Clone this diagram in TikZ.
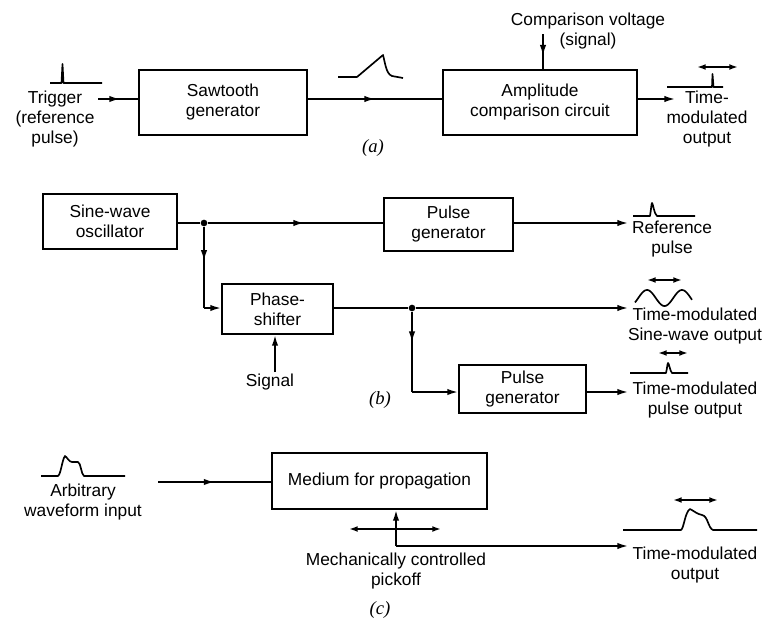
\documentclass[tikz,border=0pt]{standalone}
\usepackage{fontspec}
\setmainfont{Liberation Sans}
\newfontfamily\capfont{Liberation Serif}
\usetikzlibrary{arrows.meta,decorations.markings}
\tikzset{
  lab/.style={font=\fontsize{13}{15}\selectfont, align=center, inner sep=0pt},
  partlab/.style={font=\capfont\itshape\fontsize{14}{15}\selectfont, inner sep=0pt},
  blk/.style={draw, line width=1.6pt, align=center, inner sep=0pt, font=\fontsize{13}{15}\selectfont},
  wire/.style={line width=1.25pt},
  tip/.style={-{Latex[length=8pt,width=4.8pt]}},
  dbl/.style={{Latex[length=6.5pt,width=4.4pt]}-{Latex[length=6.5pt,width=4.4pt]}, line width=1.25pt},
  midarr/.style={postaction={decorate}, decoration={markings, mark=at position #1 with {\arrow{Latex[length=8pt,width=4.8pt]}}}},
  wave/.style={line width=1.25pt, line join=round},
  dot/.style={circle, fill, inner sep=0pt, minimum size=5pt}
}
\begin{document}
\begin{tikzpicture}[x=0.75pt,y=-0.75pt]
\useasboundingbox (0,0) rectangle (767,621);

% ---------- (a) ----------
\node[blk, minimum width=126pt, minimum height=48.75pt] (saw) at (223,102.5) {Sawtooth\\generator};
\node[blk, minimum width=145.5pt, minimum height=48.75pt] (amp) at (540,102.5) {Amplitude\\comparison circuit};
\node[lab] (trig) at (55,119) {Trigger\\(reference\\pulse)};
\node[lab] (cmp) at (588,31) {Comparison voltage\\(signal)};
\node[lab] (outa) at (707,119) {Time-\\modulated\\output};
\node[partlab] (capa) at (373,148) {(a)};
\coordinate (tin) at (98,99);
\coordinate (aout) at (675,99);
\coordinate (ctop) at (543,34);
\draw[wire, midarr=0.55] (tin) -- (tin -| saw.west);
\draw[wire, midarr=0.5] (saw.east |- tin) -- (amp.west |- tin);
\draw[wire, midarr=0.62] (ctop) -- (ctop |- amp.north);
\draw[wire, tip] (amp.east |- aout) -- (aout);
% trigger pulse
\draw[wave] (50,83) -- (61.5,83) -- (62.5,64) -- (63.5,83) -- (102,83);
% sawtooth wave
\draw[wave] (338,77) -- (357,77) -- (383,55) .. controls (385,62) and (386,74) .. (392,76) -- (403,78);
% output pulse (a)
\draw[wave] (667,87) -- (712,87) -- (712.5,74) -- (713.5,87) -- (723,87);
\draw[dbl] (697,67) -- (738,67);

% ---------- (b) ----------
\node[blk, minimum width=100.5pt, minimum height=41.25pt] (osc) at (110,221.5) {Sine-wave\\oscillator};
\node[blk, minimum width=96.75pt, minimum height=39.75pt] (pg1) at (448.5,224.5) {Pulse\\generator};
\node[blk, minimum width=83.25pt, minimum height=37.5pt] (ps) at (277.5,309) {Phase-\\shifter};
\node[blk, minimum width=95.25pt, minimum height=36pt] (pg2) at (522.5,389) {Pulse\\generator};
\node[lab] (refp) at (672,239) {Reference\\pulse};
\node[lab] (sinout) at (695,326) {Time-modulated\\Sine-wave output};
\node[lab] (pulout) at (695,400) {Time-modulated\\pulse output};
\node[lab] (sig) at (270,382) {Signal};
\node[partlab] (capb) at (380,400) {(b)};
\node[dot] (j1) at (204,223) {};
\node[dot] (j2) at (412,308) {};
\coordinate (c1) at (204,308);
\coordinate (c2) at (412,392);
\coordinate (r1) at (628,223);
\coordinate (r2) at (628,308);
\coordinate (r3) at (628,392);
\coordinate (sigb) at (275,372);
\draw[wire] (osc.east |- j1) -- (j1);
\draw[wire, midarr=0.55] (j1) -- (j1 -| pg1.west);
\draw[wire, tip] (pg1.east |- r1) -- (r1);
\draw[wire, midarr=0.42] (j1) -- (c1);
\draw[wire, tip] (c1) -- (c1 -| ps.west);
\draw[wire, tip] (sigb) -- (sigb |- ps.south);
\draw[wire] (ps.east |- j2) -- (j2);
\draw[wire, tip] (j2) -- (r2);
\draw[wire, midarr=0.38] (j2) -- (j2 |- c2);
\draw[wire, tip] (j2 |- c2) -- (c2 -| pg2.west);
\draw[wire, tip] (pg2.east |- r3) -- (r3);
% reference pulse
\draw[wave] (633,216) -- (650,216) .. controls (651,210) and (651.5,203) .. (652,203) .. controls (653,203) and (654,214) .. (657,216) -- (695,216);
% sine wave
\draw[wave] plot[domain=635:692, samples=60, smooth] (\x,{298-8*sin((\x-638.25)/35*360)});
\draw[dbl] (647,280) -- (682,280);
% pulse output (b)
\draw[wave] (630,373) -- (666,373) .. controls (667,369) and (667.5,363) .. (668,363) .. controls (669,363) and (670,371) .. (672,373) -- (688,373);
\draw[dbl] (658,353) -- (688,353);

% ---------- (c) ----------
\node[blk, minimum width=161.25pt, minimum height=42pt] (med) at (379.5,481) {Medium for propagation};
\node[lab] (arb) at (83,502) {Arbitrary\\waveform input};
\node[lab] (pick) at (396,571) {Mechanically controlled\\pickoff};
\node[lab] (outc) at (695,565) {Time-modulated\\output};
\node[partlab] (capc) at (380,610) {(c)};
\coordinate (cin) at (158,482);
\coordinate (pk) at (396,546);
\coordinate (pr) at (628,546);
\coordinate (dl) at (349,529);
\coordinate (dr) at (441,529);
\draw[wire, midarr=0.5] (cin) -- (cin -| med.west);
\draw[wire, tip] (pk) -- (pk |- med.south);
\draw[wire, tip] (pk) -- (pr);
\draw[dbl] (dl) -- (dr);
% arbitrary waveform
\draw[wave] (41,476) -- (58,476) .. controls (61,474) and (62,460) .. (65,456) .. controls (67,457) and (69,462) .. (72,462) -- (78,462) .. controls (81,463) and (81,474) .. (84,476) -- (125,476);
% output waveform (c)
\draw[wave] (623,530) -- (681,530) .. controls (684,528) and (685,512) .. (690,509) .. controls (694,511) and (697,514) .. (702,515) .. controls (708,516) and (708,528) .. (713,530) -- (757,530);
\draw[dbl] (673,500) -- (718,500);
\end{tikzpicture}
\end{document}
